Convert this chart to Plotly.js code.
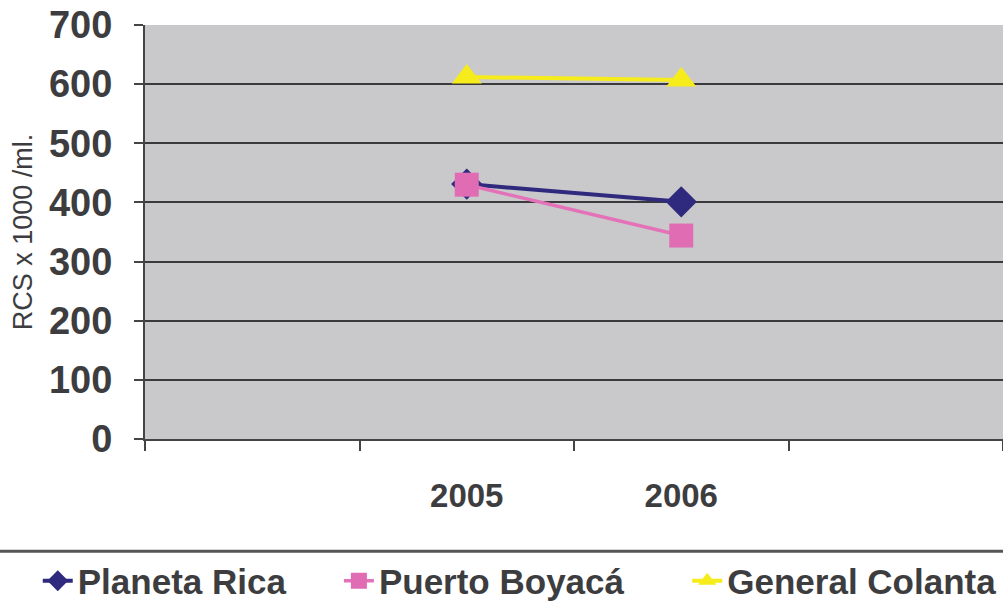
<!DOCTYPE html>
<html>
<head>
<meta charset="utf-8">
<script src="https://cdn.plot.ly/plotly-3.0.1.min.js"></script>
<style>html,body{margin:0;padding:0;background:#fff;}#chart{width:1003px;height:611px;}</style>
</head>
<body>
<div id="chart"></div>
<script>
// Data
const categories = [" ", "2005", "2006", "  "];
const years = ["2005", "2006"];
const planetaRica = [431, 401];
const puertoBoyaca = [430, 344];
const generalColanta = [612, 607];
const seriesNames = ["Planeta Rica", "Puerto Boyacá", "General Colanta"];
const yTicks = [0, 100, 200, 300, 400, 500, 600, 700];

const font = "Liberation Sans, Arial, sans-serif";
const txt = "#3d3d3f";

const traces = [
  {x: years, y: planetaRica, name: seriesNames[0], type: "scatter", mode: "lines+markers",
   line: {color: "#2f2a7e", width: 4}, marker: {symbol: "diamond", size: 24, color: "#2f2a7e"}, legend: "legend"},
  {x: years, y: puertoBoyaca, name: seriesNames[1], type: "scatter", mode: "lines+markers",
   line: {color: "#e472b8", width: 3.5}, marker: {symbol: "square", size: 24, color: "#e06db4"}, legend: "legend2"},
  {x: years, y: generalColanta, name: seriesNames[2], type: "scatter", mode: "lines+markers",
   line: {color: "#f6ec1c", width: 4}, marker: {symbol: "triangle-up", size: 26, color: "#f6ec1c"}, legend: "legend3"}
];

const legendBase = {orientation: "h", yanchor: "middle", xanchor: "left", y: -0.343,
  bgcolor: "rgba(0,0,0,0)", font: {family: font, size: 35, color: txt, weight: "bold"}};

const layout = {
  width: 1003, height: 611,
  margin: {l: 145, r: 0, t: 25, b: 169},
  paper_bgcolor: "#ffffff",
  plot_bgcolor: "#c9c9cb",
  showlegend: true,
  xaxis: {
    type: "category", categoryorder: "array", categoryarray: categories,
    range: [-0.5, 3.5], tickson: "boundaries", ticks: "outside", ticklen: 10, tickwidth: 2, tickcolor: "#444",
    showgrid: false, showline: true, linecolor: "#444", linewidth: 2, zeroline: false,
    tickfont: {family: font, size: 33, color: txt, weight: "bold"}, ticklabelstandoff: 26,
    fixedrange: true
  },
  yaxis: {
    range: [0, 700], tickvals: yTicks, ticks: "outside", ticklen: 9, tickwidth: 2, tickcolor: "#444",
    showgrid: true, gridcolor: "#3a3a3c", gridwidth: 2, showline: true, linecolor: "#444", linewidth: 2,
    zeroline: false,
    tickfont: {family: font, size: 38, color: txt, weight: "bold"}, ticklabelstandoff: 14,
    title: {text: "RCS x 1000 /ml.", font: {family: font, size: 27, color: txt}, standoff: 9},
    fixedrange: true
  },
  legend: Object.assign({}, legendBase, {x: -0.125}),
  legend2: Object.assign({}, legendBase, {x: 0.226}),
  legend3: Object.assign({}, legendBase, {x: 0.632}),
  shapes: [
    {type: "line", xref: "paper", yref: "paper", x0: -0.17, x1: 1.0, y0: -0.271, y1: -0.271,
     line: {color: "#555", width: 3}}
  ]
};

Plotly.newPlot("chart", traces, layout, {displayModeBar: false, staticPlot: true});
</script>
</body>
</html>
